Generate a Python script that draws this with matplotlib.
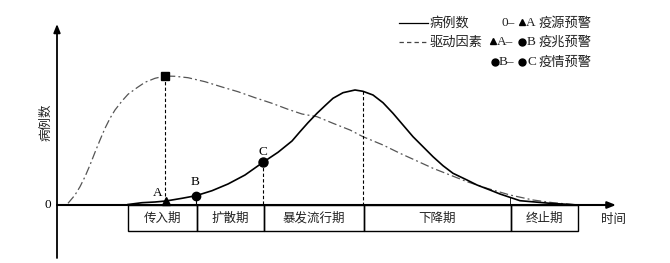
import matplotlib
matplotlib.use('Agg')
import matplotlib.pyplot as plt
from matplotlib.patches import Rectangle
from matplotlib.lines import Line2D

plt.rcParams['font.family'] = ['Noto Sans CJK SC', 'DejaVu Sans']

# cases curve (time, cases)
case_t = [71, 85, 98, 109, 125, 139, 155, 171, 188, 206, 221, 235, 243,
          251, 260, 268, 276, 286, 298, 306, 316, 326, 336, 346, 356, 366,
          376, 386, 396, 410, 420, 433, 443, 463, 493, 510, 521]
case_y = [0.5, 2.3, 3, 4, 6.7, 9.3, 14.3, 21, 30, 42.7, 52.7, 64, 73.3,
          82.3, 91.7, 99.3, 106.7, 112.3, 115, 113.7, 110, 102.3, 91.7, 80,
          68.3, 58.3, 48.3, 39.3, 31.7, 25, 20, 15, 11, 4.3, 1.7, 0.7, 0]

# driving factor curve
drive_t = [11, 18, 23, 28, 33, 38, 43, 48, 53, 58, 65, 71, 80, 88, 98, 108,
           118, 131, 148, 165, 181, 198, 215, 231, 245, 260, 276, 293, 306,
           326, 343, 360, 376, 393, 410, 430, 453, 476, 496, 510, 521]
drive_y = [1.7, 10, 18.3, 28.3, 40, 52.7, 65, 76.7, 86.7, 95, 104, 110.7,
           117.3, 122.7, 126.7, 129, 128.7, 127.3, 123.3, 118, 113.3, 107.3,
           101.7, 95.7, 91, 88.3, 81.7, 75, 68.3, 60, 51.7, 44, 36.7, 30,
           23.3, 16.7, 10, 5, 2.3, 1, 0]

# warning points
peak_drive = (108, 129)
point_a = (109, 4)
point_b = (139, 9.3)
point_c = (206, 42.7)
peak_mark = (306, 113.7)
end_mark = (453, 8)

# stages under the time axis
stage_edges = [71, 140, 207, 307, 454, 521]
stage_names = ['传入期', '扩散期', '暴发流行期', '下降期', '终止期']

fig = plt.figure(figsize=(6.7, 2.63), dpi=100)
ax = fig.add_axes([0, 0, 1, 1])
ax.set_xlim(-57, 613)
ax.set_ylim(-58, 205)
ax.axis('off')

txt = '#222222'
serif = ['Liberation Serif', 'DejaVu Serif']

# axes with arrows
ax.annotate('', xy=(559, 0), xytext=(0, 0),
            arrowprops=dict(arrowstyle='-|>,head_length=0.5,head_width=0.2',
                            lw=1.5, color='black', shrinkA=0, shrinkB=0))
ax.annotate('', xy=(0, 181), xytext=(0, -53),
            arrowprops=dict(arrowstyle='-|>,head_length=0.5,head_width=0.2',
                            lw=1.3, color='black', shrinkA=0, shrinkB=0))

ax.plot(drive_t, drive_y, color='#555555', lw=0.9, ls=(0, (7, 2.5, 1.5, 2.5)))
ax.plot(case_t, case_y, color='black', lw=1.2)

# vertical guides
vd = dict(color='black', lw=0.8, ls=(0, (3, 2)))
ax.plot([peak_drive[0], peak_drive[0]], [peak_drive[1], 0], **vd)
ax.plot([point_b[0], point_b[0]], [point_b[1], 0], color='black', lw=0.8)
ax.plot([point_c[0], point_c[0]], [point_c[1], 0], **vd)
ax.plot([peak_mark[0], peak_mark[0]], [peak_mark[1], 0], **vd)
ax.plot([end_mark[0], end_mark[0]], [end_mark[1], 0], color='black', lw=0.6)

# markers
ax.plot(*peak_drive, marker='s', ms=6, color='black')
ax.plot(*point_a, marker='^', ms=5.5, color='black')
ax.plot(*point_b, marker='o', ms=6, color='black')
ax.plot(*point_c, marker='o', ms=6.5, color='black')

ax.text(point_a[0] - 8, point_a[1] + 8, 'A', family=serif, fontsize=9.5,
        ha='center', va='center')
ax.text(point_b[0] - 1, point_b[1] + 14, 'B', family=serif, fontsize=9.5,
        ha='center', va='center')
ax.text(point_c[0], point_c[1] + 10, 'C', family=serif, fontsize=9.5,
        ha='center', va='center')
ax.text(-9, 0, '0', family=serif, fontsize=9.5, ha='center', va='center')
ax.text(-11, 83, '病例数', rotation=90, fontsize=9, ha='center',
        va='center', color=txt)
ax.text(557, -14, '时间', fontsize=9, ha='center', va='center', color=txt)

# stage table
for i, name in enumerate(stage_names):
    x0, x1 = stage_edges[i], stage_edges[i + 1]
    ax.add_patch(Rectangle((x0, -26), x1 - x0, 26, fill=False, lw=1.0,
                           ec='black'))
    ax.text((x0 + x1) / 2, -13, name, fontsize=9, ha='center',
            va='center', color=txt)


# legend drawn by hand in figure pixels
def fx(px):
    return px / 670


def fy(py):
    return 1 - py / 263


def mark(px, py, m, size):
    fig.add_artist(Line2D([fx(px)], [fy(py)], marker=m, ms=size,
                          color='black', lw=0))


def word(px, py, s, serif_font=False, ha='left'):
    fig.text(fx(px), fy(py), s, fontsize=9.5, va='center', ha=ha, color=txt,
             family=serif if serif_font else None)


fig.add_artist(Line2D([fx(399), fx(428)], [fy(23), fy(23)], color='black',
                      lw=0.9))
fig.add_artist(Line2D([fx(399), fx(428)], [fy(42), fy(42)], color='#444444',
                      lw=0.9, ls=(0, (3.5, 2.5))))
word(430, 23, '病例数')
word(430, 42, '驱动因素')

word(501, 23, '0–', True)
mark(522, 22, '^', 5)
word(526, 23, 'A', True)
word(592, 23, '疫源预警', ha='right')

mark(493, 41, '^', 5)
word(497, 42, 'A–', True)
mark(522, 42, 'o', 5)
word(527, 42, 'B', True)
word(592, 42, '疫兆预警', ha='right')

mark(495, 62, 'o', 5)
word(499, 62, 'B–', True)
mark(522, 62, 'o', 5)
word(527, 62, 'C', True)
word(592, 62, '疫情预警', ha='right')

fig.savefig('out.png', dpi=100)
